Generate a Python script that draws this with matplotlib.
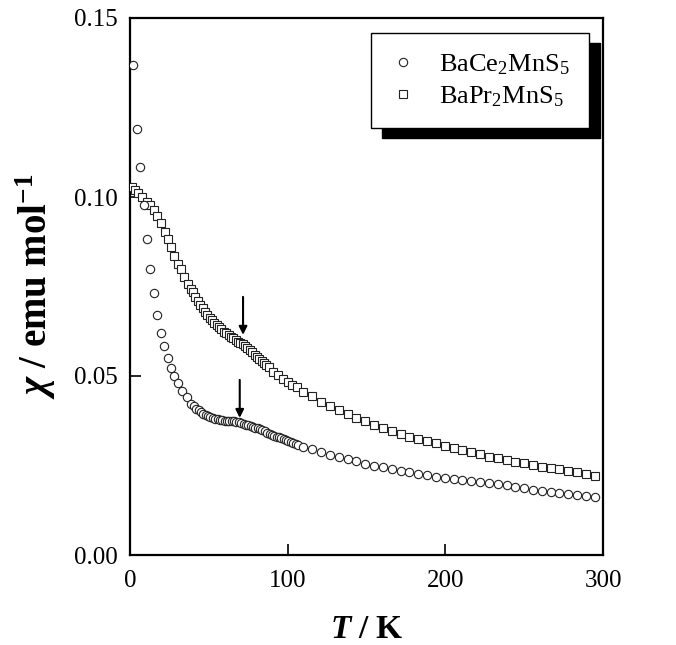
import matplotlib
matplotlib.use("Agg")
import matplotlib.pyplot as plt
import numpy as np

plt.rcParams['font.family'] = ['Liberation Serif', 'DejaVu Serif']
plt.rcParams['mathtext.fontset'] = 'custom'
plt.rcParams['mathtext.rm'] = 'Liberation Serif'
plt.rcParams['mathtext.it'] = 'Liberation Serif:italic'
plt.rcParams['mathtext.bf'] = 'Liberation Serif:bold'
plt.rcParams['mathtext.bfit'] = 'Liberation Serif:italic:bold'

# ---------------- data ----------------
ce_T_low = [2.1, 4.2, 6.3, 8.6, 10.8, 13.0, 15.2, 17.3, 19.5, 21.8, 23.9, 26.0,
            28.1, 30.6, 33.2, 36.0, 39.0]
ce_chi_low = [0.1369, 0.1189, 0.1083, 0.0978, 0.0883, 0.0798, 0.0731, 0.0670,
              0.0621, 0.0584, 0.0549, 0.0523, 0.0500, 0.0480, 0.0458, 0.0440, 0.0422]

ce_T_mid = [40.5, 42, 43.5, 45, 46.5, 48, 49.5, 51, 52.5, 54, 55.5, 57, 58.5, 60,
            61.5, 63, 64.5, 66, 67.5, 69, 70.5, 72, 73.5, 75, 76.5, 78, 79.5, 81,
            82.5, 84, 85.5, 87, 88.5, 90, 91.5, 93, 94.5, 96, 97.5, 99, 100.5, 102,
            103.5, 105, 106.5]
ce_chi_mid = [0.0415, 0.0409, 0.0404, 0.0399, 0.0395, 0.0391, 0.0388, 0.0385,
              0.0383, 0.0381, 0.0379, 0.0377, 0.0376, 0.0375, 0.0374, 0.0373,
              0.0373, 0.0373, 0.0372, 0.0371, 0.0369, 0.0366, 0.0364, 0.0362,
              0.0360, 0.0358, 0.0356, 0.0354, 0.0351, 0.0348, 0.0345, 0.0342,
              0.0339, 0.0336, 0.0333, 0.0331, 0.0329, 0.0326, 0.0324, 0.0321,
              0.0318, 0.0315, 0.0312, 0.0309, 0.0306]

ce_T_high = [110.0, 115.6, 121.2, 126.8, 132.4, 138.0, 143.6, 149.2, 154.8, 160.4,
             166.0, 171.6, 177.2, 182.8, 188.4, 194.0, 199.6, 205.2, 210.8, 216.4,
             222.0, 227.6, 233.2, 238.8, 244.4, 250.0, 255.6, 261.2, 266.8, 272.4,
             278.0, 283.6, 289.2, 294.8]
ce_chi_high = [0.0301, 0.0295, 0.0287, 0.0280, 0.0274, 0.0268, 0.0262, 0.0255,
               0.0249, 0.0245, 0.0240, 0.0235, 0.0231, 0.0227, 0.0223, 0.0219,
               0.0215, 0.0212, 0.0209, 0.0206, 0.0203, 0.0200, 0.0199, 0.0195,
               0.0191, 0.0186, 0.0182, 0.0178, 0.0176, 0.0173, 0.0170, 0.0167,
               0.0164, 0.0161]

pr_T_low = [1.5, 3.2, 5.3, 7.8, 10.6, 13.0, 15.2, 17.3, 19.6, 22.0, 23.8, 26.0,
            28.0, 30.2, 32.3, 34.4, 36.5, 38.6]
pr_chi_low = [0.1029, 0.1020, 0.1010, 0.1001, 0.0987, 0.0978, 0.0964, 0.0948,
              0.0928, 0.0903, 0.0882, 0.0859, 0.0836, 0.0814, 0.0798, 0.0777,
              0.0758, 0.0743]

pr_T_mid = [40, 41.5, 43, 44.5, 46, 47.5, 49, 50.5, 52, 53.5, 55, 56.5, 58, 59.5,
            61, 62.5, 64, 65.5, 67, 68.5, 70, 71.5, 73, 74.5, 76, 77.5, 79, 80.5,
            82, 83.5, 85, 86.5, 88, 91, 94, 97, 100, 103, 106]
pr_chi_mid = [0.0735, 0.0722, 0.0710, 0.0699, 0.0689, 0.0680, 0.0671, 0.0663,
              0.0656, 0.0649, 0.0642, 0.0636, 0.0630, 0.0624, 0.0619, 0.0614,
              0.0609, 0.0605, 0.0600, 0.0596, 0.0592, 0.0588, 0.0583, 0.0578,
              0.0572, 0.0566, 0.0560, 0.0554, 0.0548, 0.0542, 0.0536, 0.0530,
              0.0524, 0.0512, 0.0502, 0.0493, 0.0484, 0.0476, 0.0468]

pr_T_high = [110.0, 115.6, 121.2, 126.8, 132.4, 138.0, 143.6, 149.2, 154.8, 160.4,
             166.0, 171.6, 177.2, 182.8, 188.4, 194.0, 199.6, 205.2, 210.8, 216.4,
             222.0, 227.6, 233.2, 238.8, 244.4, 250.0, 255.6, 261.2, 266.8, 272.4,
             278.0, 283.6, 289.2, 294.8]
pr_chi_high = [0.0456, 0.0443, 0.0427, 0.0416, 0.0405, 0.0395, 0.0384, 0.0374,
               0.0363, 0.0354, 0.0347, 0.0339, 0.0331, 0.0324, 0.0318, 0.0312,
               0.0305, 0.0299, 0.0293, 0.0287, 0.0281, 0.0275, 0.0270, 0.0265,
               0.0261, 0.0256, 0.0251, 0.0247, 0.0243, 0.0239, 0.0235, 0.0231,
               0.0227, 0.0222]

labels = [r'$\mathrm{BaCe_2MnS_5}$', r'$\mathrm{BaPr_2MnS_5}$']
x_ticks = [0, 100, 200, 300]
y_ticks = [0.00, 0.05, 0.10, 0.15]
y_tick_labels = ['0.00', '0.05', '0.10', '0.15']

# arrows: (T, chi_start, chi_end)
ce_arrow = (69.6, 0.0489, 0.0383)
pr_arrow = (71.7, 0.0721, 0.0615)

# ---------------- plotting ----------------
ce_T = ce_T_low + ce_T_mid + ce_T_high
ce_chi = ce_chi_low + ce_chi_mid + ce_chi_high
pr_T = pr_T_low + pr_T_mid + pr_T_high
pr_chi = pr_chi_low + pr_chi_mid + pr_chi_high

fig = plt.figure(figsize=(6.76, 6.45), dpi=100)
ax = fig.add_axes([130/676, 1-555/645, 473/676, 537/645])

ax.plot(pr_T, pr_chi, linestyle='none', marker='s', markersize=5.6,
        markerfacecolor='white', markeredgecolor='#222222', markeredgewidth=0.8,
        label=labels[1], zorder=3)
ax.plot(ce_T, ce_chi, linestyle='none', marker='o', markersize=6.0,
        markerfacecolor='white', markeredgecolor='#222222', markeredgewidth=0.8,
        label=labels[0], zorder=3)

for (xa, y0, y1) in [ce_arrow, pr_arrow]:
    ax.annotate('', xy=(xa, y1), xytext=(xa, y0),
                arrowprops=dict(arrowstyle='-|>', color='black', lw=1.5,
                                mutation_scale=12, shrinkA=0, shrinkB=0))

ax.set_xlim(0, 300)
ax.set_ylim(0, 0.15)
ax.set_xticks(x_ticks)
ax.set_yticks(y_ticks)
ax.set_yticklabels(y_tick_labels)
ax.tick_params(direction='in', length=8, width=1.2, labelsize=18,
               top=False, right=False)
ax.tick_params(axis='x', pad=11)
ax.tick_params(axis='y', pad=9)
for sp in ax.spines.values():
    sp.set_linewidth(1.6)

ax.set_xlabel(r'$\mathbfit{T}\ \mathbf{/\ K}$', fontsize=24, labelpad=16)
ax.set_ylabel(r'$\mathbfit{\chi}\ \mathbf{/\ emu\ mol^{-1}}$', fontsize=28, labelpad=11)

h, l = ax.get_legend_handles_labels()
leg = ax.legend([h[1], h[0]], [l[1], l[0]], loc='upper left',
                bbox_to_anchor=(0.5095, 0.972), borderaxespad=0,
                fontsize=19, frameon=True, fancybox=False,
                shadow={'ox': 8, 'oy': -7, 'color': 'black', 'alpha': 1},
                handlelength=1.0, handletextpad=0.86, borderpad=0.72,
                labelspacing=0.3)
leg.get_frame().set_edgecolor('black')
leg.get_frame().set_linewidth(1.0)

fig.savefig('out.png', dpi=100)
